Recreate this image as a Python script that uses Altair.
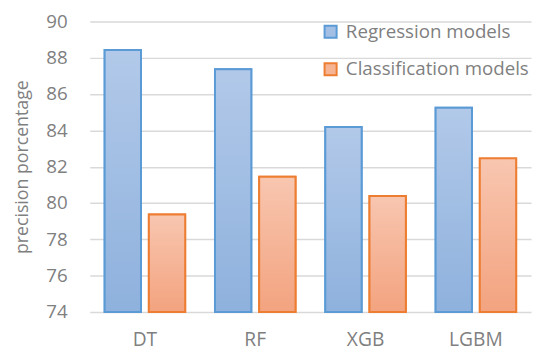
import altair as alt
import pandas as pd

models = ["DT", "RF", "XGB", "LGBM"]
regression = [88.43, 87.37, 84.19, 85.25]
classification = [79.37, 81.45, 80.39, 82.46]
series = ["Regression models", "Classification models"]
y_floor = 74

rows = []
for m, r, c in zip(models, regression, classification):
    rows.append({"model": m, "series": series[0], "value": r})
    rows.append({"model": m, "series": series[1], "value": c})
df = pd.DataFrame(rows)

FONT = "Open Sans"
GRAY = "#7f7f7f"

x = alt.X("model:N", sort=models, title=None,
          scale=alt.Scale(paddingInner=0.27, paddingOuter=0.135),
          axis=alt.Axis(labelAngle=0, labelPadding=19, ticks=False, domain=False,
                        labelFont=FONT, labelFontSize=19.5, labelColor=GRAY))
y = alt.Y("value:Q", title="precision porcentage",
          scale=alt.Scale(domain=[74, 90], nice=False, zero=False),
          axis=alt.Axis(values=list(range(74, 91, 2)), ticks=False, domain=False,
                        labelPadding=23, labelFont=FONT, labelFontSize=19,
                        labelColor=GRAY, titleFont=FONT, titleFontSize=18,
                        titleFontWeight="normal", titleColor=GRAY, titlePadding=14,
                        gridColor="#d9d9d9", gridWidth=1.5))
y2 = alt.datum(y_floor)
xo = alt.XOffset("series:N", sort=series, scale=alt.Scale(paddingInner=0.178))

base = alt.Chart(df)

legend_layer = base.mark_bar(strokeWidth=2).encode(
    x=x, y=y, y2=y2, xOffset=xo,
    fill=alt.Fill("series:N", sort=series,
                  scale=alt.Scale(domain=series, range=["#a3bfe4", "#f5b595"]),
                  legend=alt.Legend(title=None, orient="none", legendX=235, legendY=1,
                                    symbolType="square", symbolSize=150,
                                    symbolStrokeWidth=2, labelFont=FONT,
                                    labelFontSize=19, labelColor=GRAY, labelLimit=400,
                                    labelOffset=6, rowPadding=17)),
    stroke=alt.Stroke("series:N", sort=series,
                      scale=alt.Scale(domain=series, range=["#5b9bd5", "#ed7d31"]),
                      legend=None),
)

def grad(top, bottom):
    return alt.Gradient(gradient="linear",
                        stops=[alt.GradientStop(color=top, offset=0),
                               alt.GradientStop(color=bottom, offset=1)],
                        x1=0, x2=0, y1=0, y2=1)

reg = base.transform_filter(alt.datum.series == series[0]).mark_bar(
    fill=grad("#b2c9e9", "#8eb1dd"), stroke="#5b9bd5", strokeWidth=2
).encode(x=x, y=y, y2=y2, xOffset=xo)

cls = base.transform_filter(alt.datum.series == series[1]).mark_bar(
    fill=grad("#f8c6b0", "#f3a37f"), stroke="#ed7d31", strokeWidth=2
).encode(x=x, y=y, y2=y2, xOffset=xo)

chart = alt.layer(legend_layer, reg, cls).properties(
    width=448, height=295,
    autosize=alt.AutoSizeParams(type="none"),
    padding={"left": 83, "top": 11, "right": 3, "bottom": 40},
).configure_view(stroke=None).configure_axisX(grid=False)

chart.save("out.html", embed_options={"renderer": "svg", "actions": False})
